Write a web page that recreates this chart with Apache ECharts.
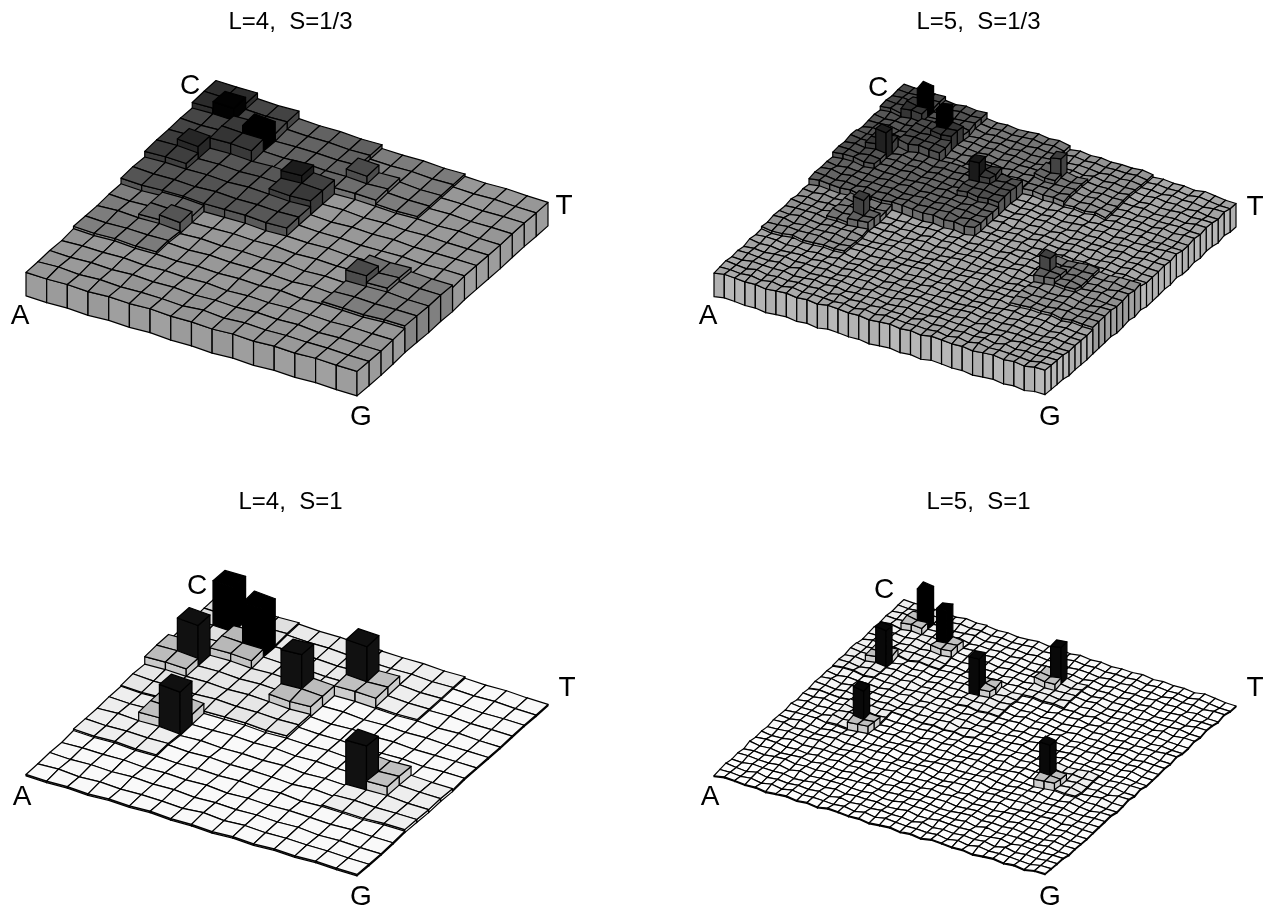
<!DOCTYPE html>
<html><head><meta charset="utf-8">
<style>html,body{margin:0;background:#fff}#c{width:1265px;height:911px}</style>
<script src="https://cdn.jsdelivr.net/npm/echarts@6/dist/echarts.min.js"></script>
</head><body><div id="c"></div><script>
// rows run from the C-T edge (first row) to the A-G edge (last row); columns from A/C side to G/T side
const CELLS_L4 = [
"xxkkmmmmllll....",
"x1kkmmmmllll....",
"kkd2mmmm5gll....",
"kkddmmmmggll....",
"c3qqqq4c........",
"ccqqqqcc........",
"qqqqqqqq........",
"qqqqqqqq........",
"llrr........ggll",
"llr6........7gll",
"llll........llll",
"llll........llll",
"................",
"................",
"................",
"................"];
const CELLS_L5 = [
"ddddkkkkmmmmmmmmllllllll........",
"ddddkkkkmmmmmmmmllllllll........",
"ddD1kkkkmmmmmmmmllllllll........",
"ddDDkkkkmmmmmmmmllllllll........",
"kkkkdd2DmmmmmmmmR5rrllll........",
"kkkkddDDmmmmmmmmRRrrllll........",
"kkkkddddmmmmmmmmrrrrllll........",
"kkkkddddmmmmmmmmrrrrllll........",
"ccCCqqqqqqqqCCcc................",
"ccC3qqqqqqqq4Ccc................",
"ccccqqqqqqqqcccc................",
"ccccqqqqqqqqcccc................",
"qqqqqqqqqqqqqqqq................",
"qqqqqqqqqqqqqqqq................",
"qqqqqqqqqqqqqqqq................",
"qqqqqqqqqqqqqqqq................",
"llllrrrr................rrrrllll",
"llllrrrr................rrrrllll",
"llllrr6R................7Rrrllll",
"llllrrRR................RRrrllll",
"llllllll................llllllll",
"llllllll................llllllll",
"llllllll................llllllll",
"llllllll................llllllll",
"................................",
"................................",
"................................",
"................................",
"................................",
"................................",
"................................",
"................................"];
const WOBBLE_L4 = [
"5463746254736485","3648256374825647","6274538462735846","4725163847526384",
"5836274958263745","2647385162748356","7352846374625837","4168357264836152",
"6375248593746285","3847162538274693","5264738465183746","7483526374926538",
"2658374816375264","6374958263748152","4827365192847563","5362748351627485"];
const WOBBLE_L5 = [
"53746284736259481736254837462951","27483615927463849265173846295738","64925738164827359461827364958271","38174629583746218593746281635947",
"72638415963827465183927465813629","45916273849561738246859137264583","19384756261937485672938415672938","63728195478362915847362918475632",
"84562937164859273641859273648152","27395846173625948372615948273659","56184739265184736295841736258493","38927461583927164583729164538276",
"61745283916472835916274385916473","49283657148395726148395267148392","75162948372659184735926184735261","28537164985372618495372861495378",
"63948271536489271653948271635482","17264985372618594372816594372618","84519372648159372684159276481593","36782415973682415963782415968241",
"52941768325947168235941768239417","79163582467913582647913582467135","24857931682485793168248579316824","61392475816139247581613924758163",
"48725163947285163948725169487251","93614728539461728356147283946172","15279364815792364851279364851273","67438192567438129675438192564381",
"32865714938265714923865714928657","84192637481926374519263748192637","56371829465371829645371829465318","29746158372974615837297461583729"];
// height and grey of every kind of cell, one table per panel
const H_L4_S13 = {".":24.5,l:27,m:31,q:33,k:39,x:45,r:31,g:31,c:39,d:44,1:52,2:52,3:46,4:47,5:39,6:36,7:38};
const G_L4_S13 = {".":150,l:124,m:98,q:84,k:68,x:44,r:102,g:110,c:60,d:54,1:0,2:0,3:34,4:28,5:72,6:82,7:74};
const H_L5_S13 = {".":24.5,l:27,m:31,q:33,k:37,r:30,c:38,d:41,R:34,C:44,D:46,1:65,2:65,3:60,4:58,5:50,6:50,7:47};
const G_L5_S13 = {".":166,l:146,m:118,q:100,k:84,r:118,c:80,d:72,R:100,C:58,D:52,1:0,2:0,3:26,4:26,5:66,6:58,7:62};
const H_L4_S1 = {".":1.5,l:3,m:3.5,q:4,k:5,x:5,r:12,g:12,c:12,d:12,1:53,2:55,3:47,4:48,5:49,6:47,7:48};
const G_L4_S1 = {".":249,l:238,m:234,q:230,k:224,x:222,r:192,g:192,c:188,d:184,1:0,2:0,3:16,4:16,5:16,6:16,7:16};
const H_L5_S1 = {".":1,l:1.2,m:1.4,q:1.6,k:2,r:2.5,c:2.5,d:2.5,R:9,C:9,D:9,1:43,2:44,3:41,4:41,5:41,6:39,7:40};
const G_L5_S1 = {".":254,l:250,m:248,q:246,k:242,r:238,c:238,d:238,R:192,C:192,D:192,1:0,2:0,3:8,4:8,5:8,6:8,7:8};
const PANEL_TITLES = ["L=4,  S=1/3","L=5,  S=1/3","L=4,  S=1","L=5,  S=1"];
const CORNER_NAMES = ["A","C","G","T"];

// ground corners of the plot box, in the axis units of every panel
const cA=[26,296], cG=[357,396], cT=[548,226], cC=[216,122];
function project(u,v,z){
  const s=1-0.08*(v+1-u)/2;
  return [
    cA[0]*(1-u)*(1-v)+cG[0]*u*(1-v)+cT[0]*u*v+cC[0]*(1-u)*v,
    cA[1]*(1-u)*(1-v)+cG[1]*u*(1-v)+cT[1]*u*v+cC[1]*(1-u)*v - z*s
  ];
}
const panels=[
 {cells:CELLS_L4,wob:WOBBLE_L4,H:H_L4_S13,G:G_L4_S13,amp:.25,shade:1,side:6,left:0,top:0},
 {cells:CELLS_L5,wob:WOBBLE_L5,H:H_L5_S13,G:G_L5_S13,amp:.3,shade:1,side:12,left:688,top:0},
 {cells:CELLS_L4,wob:WOBBLE_L4,H:H_L4_S1,G:G_L4_S1,amp:.25,shade:0,side:10,left:0,top:480},
 {cells:CELLS_L5,wob:WOBBLE_L5,H:H_L5_S1,G:G_L5_S1,amp:.3,shade:0,side:10,left:688,top:480}
];
const grids=[],xAxes=[],yAxes=[],series=[],titles=[];
panels.forEach((p,k)=>{
  grids.push({left:p.left,top:p.top,width:577,height:431});
  xAxes.push({type:'value',gridIndex:k,min:0,max:577,show:false});
  yAxes.push({type:'value',gridIndex:k,min:0,max:431,inverse:true,show:false});
  const n=p.cells.length,data=[];
  const wv=(i,j)=>(+p.wob[n-1-Math.min(j,n-1)][Math.min(i,n-1)]-4.5)*p.amp;
  for(let r=0;r<n;r++)for(let i=0;i<n;i++){
    const c=p.cells[r][i],j=n-1-r,w=+p.wob[r][i]-4.5;
    data.push([i,j,p.H[c],Math.max(0,Math.min(255,p.G[c]+w*p.shade))]);
  }
  series.push({
    type:'custom',coordinateSystem:'cartesian2d',xAxisIndex:k,yAxisIndex:k,
    data,animation:false,progressive:0,silent:true,clip:false,encode:{x:0,y:1},
    renderItem(params,api){
      const i=api.value(0),j=api.value(1),h=api.value(2),g=Math.round(api.value(3));
      const pt=(a,b,z)=>api.coord(project(a/n,b/n,z+wv(a,b)));
      const sg=Math.min(255,Math.round(g+p.side*g/150));
      const line={stroke:'#000',lineWidth:1.2,lineJoin:'round'};
      return {type:'group',children:[
        {type:'polygon',shape:{points:[pt(i,j,h),pt(i+1,j,h),pt(i+1,j,0),pt(i,j,0)]},style:Object.assign({fill:`rgb(${sg},${sg},${sg})`},line)},
        {type:'polygon',shape:{points:[pt(i+1,j,h),pt(i+1,j+1,h),pt(i+1,j+1,0),pt(i+1,j,0)]},style:Object.assign({fill:`rgb(${sg},${sg},${sg})`},line)},
        {type:'polygon',shape:{points:[pt(i,j,h),pt(i+1,j,h),pt(i+1,j+1,h),pt(i,j+1,h)]},style:Object.assign({fill:`rgb(${g},${g},${g})`},line)}
      ]};
    }
  });
  titles.push({text:PANEL_TITLES[k],left:p.left+285.5,top:p.top+5.5,textAlign:'center',
    textStyle:{fontFamily:'Liberation Sans',fontSize:24,fontWeight:'normal',color:'#000'}});
});
const LABEL_POS=[
 [[20,316],[190,86],[361,417],[564,206]],
 [[708,316],[878,88],[1050,417],[1255,207]],
 [[22,797],[197,586],[361,897],[567,688]],
 [[710,797],[884,590],[1050,897],[1255,688]]];
const graphic=[];
LABEL_POS.forEach(ps=>ps.forEach((q,i)=>graphic.push({type:'text',x:q[0],y:q[1],z:50,
  style:{text:CORNER_NAMES[i],x:0,y:0,textAlign:'center',textVerticalAlign:'middle',fontFamily:'Liberation Sans',fontSize:28,fill:'#000'}})));
const chart=echarts.init(document.getElementById('c'),null,{renderer:'canvas'});
chart.setOption({animation:false,backgroundColor:'#fff',title:titles,grid:grids,xAxis:xAxes,yAxis:yAxes,series,graphic});
</script></body></html>
